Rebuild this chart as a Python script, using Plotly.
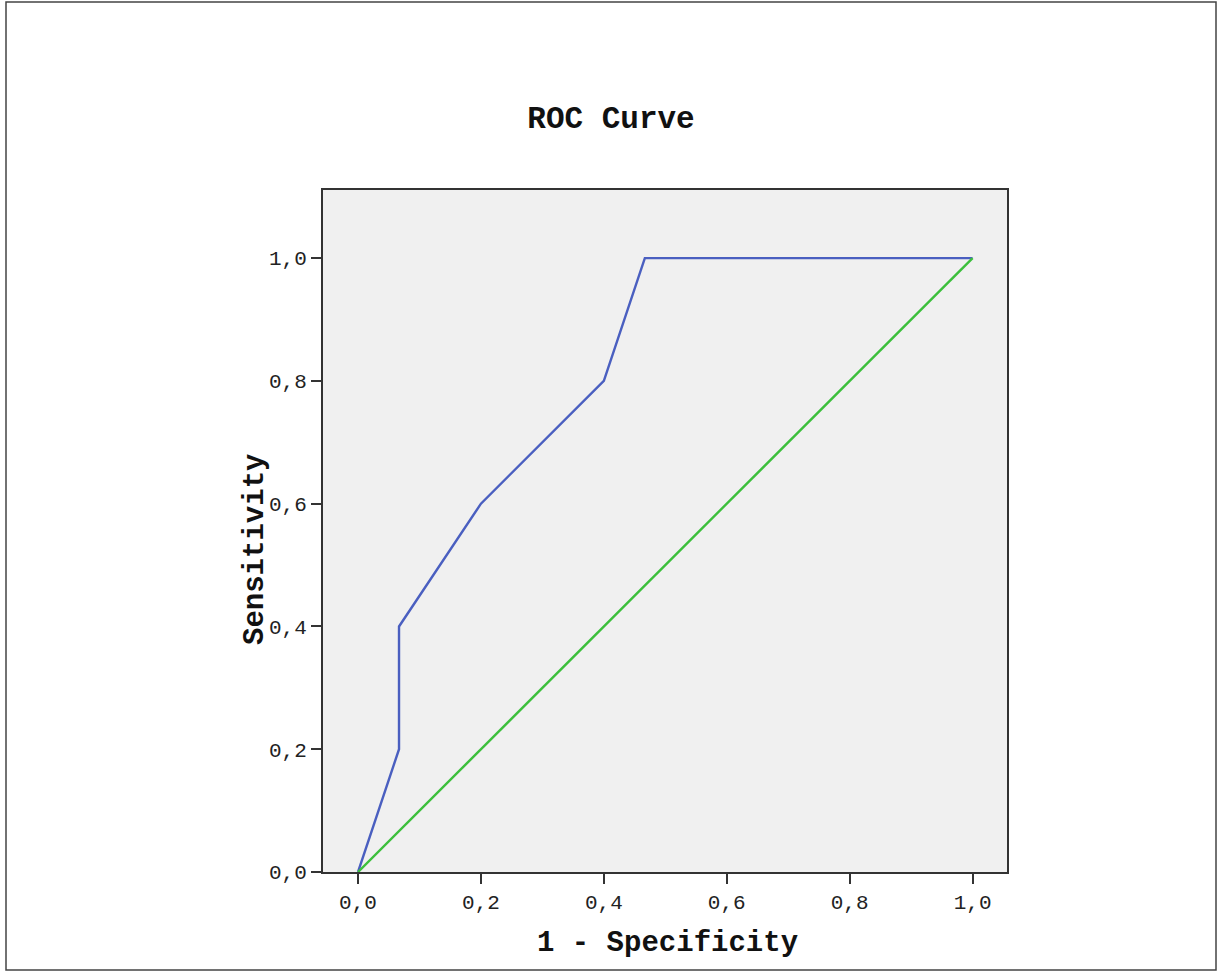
import plotly.graph_objects as go

# ROC curve data
fpr = [0.0, 0.0667, 0.0667, 0.2, 0.4, 0.4667, 1.0]
tpr = [0.0, 0.2, 0.4, 0.6, 0.8, 1.0, 1.0]
ref_x = [0.0, 1.0]
ref_y = [0.0, 1.0]
tick_vals = [0.0, 0.2, 0.4, 0.6, 0.8, 1.0]
tick_text = ["0,0", "0,2", "0,4", "0,6", "0,8", "1,0"]

W, H = 1224, 972
L, R, T, B = 323, 217, 190, 100
pw, ph = W - L - R, H - T - B

def px_x(x):
    return (x - L) / pw

def px_y(y):
    return (H - y - B) / ph

fig = go.Figure()
fig.add_trace(go.Scatter(x=fpr, y=tpr, mode="lines",
                         line=dict(color="#4a5fc0", width=2.4), showlegend=False))
fig.add_trace(go.Scatter(x=ref_x, y=ref_y, mode="lines",
                         line=dict(color="#3cbf3c", width=2.4), showlegend=False))

mono = "Liberation Mono, Courier New, monospace"
fig.update_layout(
    width=W, height=H,
    margin=dict(l=L, r=R, t=T, b=B, pad=0),
    paper_bgcolor="white", plot_bgcolor="#f0f0f0",
    title=dict(text="<b>ROC Curve</b>", x=px_x(611), xref="paper", xanchor="center",
               y=1 - 117 / H, yanchor="middle",
               font=dict(family=mono, size=31, color="#111")),
    font=dict(family=mono, color="#222"),
)
fig.update_xaxes(range=[-0.057, 1.056], tickvals=tick_vals, ticktext=tick_text,
                 showgrid=False, zeroline=False, showline=True, mirror=True,
                 linecolor="#333", linewidth=2, ticks="outside", ticklen=10,
                 tickwidth=2, tickcolor="#333", tickfont=dict(size=21, family=mono))
fig.update_yaxes(range=[0.0, 1.111], tickvals=tick_vals, ticktext=tick_text,
                 showgrid=False, zeroline=False, showline=True, mirror=True,
                 linecolor="#333", linewidth=2, ticks="outside", ticklen=10,
                 tickwidth=2, tickcolor="#333", tickfont=dict(size=21, family=mono))

# axis titles
fig.add_annotation(text="<b>1 - Specificity</b>", xref="paper", yref="paper",
                   x=px_x(667), y=px_y(944), xanchor="center", yanchor="middle",
                   showarrow=False, font=dict(size=29, family=mono, color="#111"))
fig.add_annotation(text="<b>Sensitivity</b>", xref="paper", yref="paper",
                   x=px_x(255), y=px_y(550), xanchor="center", yanchor="middle",
                   textangle=-90, showarrow=False,
                   font=dict(size=29, family=mono, color="#111"))

# page frame
fig.add_shape(type="rect", xref="paper", yref="paper",
              x0=px_x(6), x1=px_x(1216), y0=px_y(970), y1=px_y(2),
              line=dict(color="#444", width=1.5), fillcolor="rgba(0,0,0,0)", layer="below")

fig.write_html("out.html")
